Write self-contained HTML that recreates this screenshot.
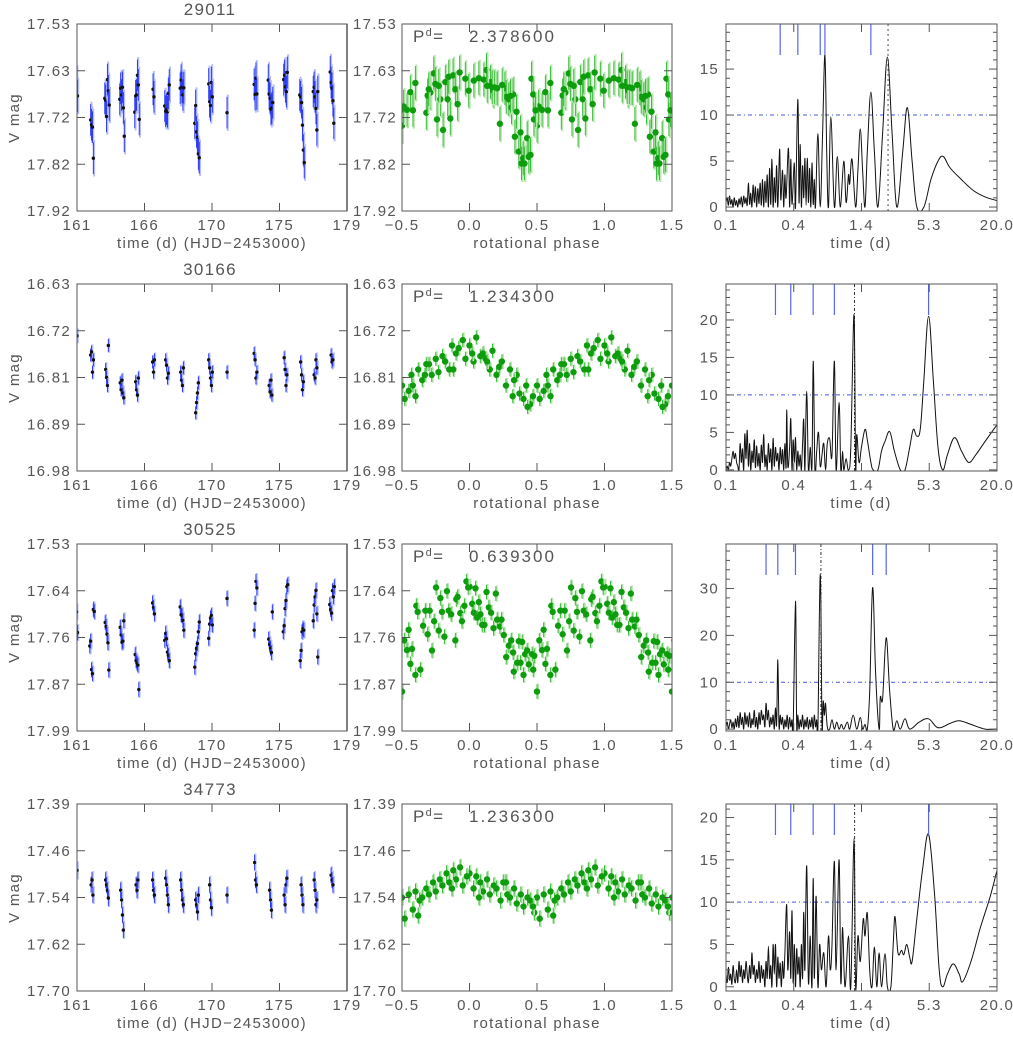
<!DOCTYPE html>
<html><head><meta charset="utf-8"><style>
html,body{margin:0;padding:0;background:#fff;}
svg{display:block;font-family:"Liberation Sans",sans-serif;}
text{letter-spacing:1.3px;}
</style></head><body>
<svg id="chart" width="1013" height="1039" viewBox="0 0 1013 1039" xmlns="http://www.w3.org/2000/svg"></svg>
<script>
// ---------- DATA ----------
const starIds = ["29011","30166","30525","34773"];
const periods = ["2.378600","1.234300","0.639300","1.236300"];
const bestLogP = [0.376, 0.091, -0.194, 0.092];
const magTicks0 = ["17.53","17.63","17.72","17.82","17.92"];
const magTicks1 = ["16.63","16.72","16.81","16.89","16.98"];
const magTicks2 = ["17.53","17.64","17.76","17.87","17.99"];
const magTicks3 = ["17.39","17.46","17.54","17.62","17.70"];
const magTop = [17.53, 16.63, 17.53, 17.39];
const magBot = [17.92, 16.98, 17.99, 17.70];
const timeTicks = ["161","166","170","175","179"];
const phaseTicks = ["-0.5","0.0","0.5","1.0","1.5"];
const periodTicks = ["0.1","0.4","1.4","5.3","20.0"];
const powTicks0 = [0,5,10,15];
const powTicks1 = [0,5,10,15,20];
const powTicks2 = [0,10,20,30];
const powTicks3 = [0,5,10,15,20];
const powMin = [-0.43, -0.15, -0.4, -0.5];
const powMax = [19.9, 24.8, 39.5, 21.6];
const magErr = [0.033, 0.012, 0.018, 0.013];
const phErr = [0.035, 0.013, 0.018, 0.013];
const nightTimes = [161.0,162.0,163.0,164.0,165.0,166.1,167.0,168.0,169.0,169.9,171.0,172.9,173.9,174.9,176.0,176.9,178.0];
const lc29011 = [[17.654,17.68],[17.73,17.74,17.745,17.81],[17.685,17.689,17.723,17.646,17.669,17.699],[17.687,17.664,17.678,17.662,17.705,17.764],[17.714,17.68,17.678,17.637,17.657,17.729],[17.666,17.682],[17.701,17.712,17.708,17.713,17.675,17.657],[17.664,17.647,17.662,17.678,17.663],[17.737,17.7,17.755,17.766,17.801,17.809],[17.655,17.692,17.7,17.652,17.682],[17.715],[17.656,17.677,17.643,17.676],[17.647,17.676,17.685,17.708,17.705,17.694],[17.646,17.637,17.661,17.671,17.631],[17.678,17.682,17.694,17.741,17.793,17.819],[17.671,17.662,17.682,17.706,17.751,17.671],[17.63,17.652,17.664,17.69,17.737]];
const lc30166 = [[16.727],[16.763,16.757,16.795,16.772],[16.79,16.805,16.82,16.745],[16.815,16.828,16.81,16.834,16.843],[16.813,16.828,16.838,16.806],[16.776,16.795,16.772],[16.772,16.782,16.806,16.797],[16.795,16.81,16.82,16.787],[16.871,16.852,16.834,16.815],[16.772,16.787,16.806,16.82,16.795],[16.795],[16.76,16.772,16.806,16.795],[16.82,16.832,16.81,16.838],[16.768,16.79,16.82,16.8],[16.776,16.8,16.828,16.813],[16.8,16.806,16.772,16.787],[16.763,16.776,16.772]];
const lc30525 = [[17.697,17.748],[17.781,17.769,17.839,17.849,17.691,17.696],[17.723,17.733,17.752,17.773,17.84],[17.735,17.754,17.772,17.769,17.719],[17.802,17.817,17.823,17.828,17.888],[17.675,17.686,17.702],[17.767,17.75,17.763,17.796,17.804,17.817],[17.685,17.704,17.706,17.718,17.742],[17.833,17.8,17.787,17.775,17.746,17.722],[17.762,17.727,17.712,17.706,17.729],[17.664],[17.742,17.676,17.622,17.638],[17.764,17.777,17.786,17.797,17.697],[17.746,17.731,17.689,17.669,17.635,17.63],[17.817,17.792,17.746,17.738,17.742],[17.719,17.68,17.66,17.644,17.702,17.808],[17.679,17.691,17.7,17.645,17.66,17.635]];
const lc34773 = [[17.50],[17.524,17.516,17.541],[17.516,17.524,17.533,17.546],[17.533,17.549,17.574,17.599],[17.524,17.533,17.516],[17.516,17.533,17.541],[17.513,17.524,17.541,17.557],[17.516,17.533,17.549,17.557],[17.549,17.557,17.569,17.541],[17.524,17.549,17.562],[17.541],[17.487,17.516,17.524],[17.533,17.549,17.566],[17.541,17.557,17.524,17.513],[17.524,17.541,17.557],[17.516,17.533,17.557,17.549],[17.508,17.516,17.524]];
const ph29011 = [0.5,0.512,0.537,0.562,0.581,0.599,0.68,0.69,0.71,0.735,0.747,0.759,0.784,0.804,0.821,0.838,0.858,0.878,0.895,0.912,0.927,0.969,0.994,0.772,0.698,0.846,0.032,0.069,0.106,0.126,0.156,0.175,0.185,0.205,0.225,0.262,0.272,0.291,0.311,0.323,0.336,0.348,0.365,0.378,0.385,0.398,0.407,0.427,0.439,0.452,0.459,0.472,0.477,0.489,0.131,0.168,0.242,0.304];
const pm29011 = [17.742,17.702,17.709,17.672,17.71,17.653,17.715,17.679,17.673,17.633,17.655,17.729,17.687,17.751,17.651,17.687,17.727,17.637,17.666,17.697,17.631,17.644,17.669,17.659,17.666,17.64,17.648,17.643,17.646,17.626,17.651,17.669,17.662,17.664,17.738,17.664,17.682,17.687,17.704,17.677,17.765,17.713,17.796,17.756,17.821,17.81,17.821,17.768,17.807,17.803,17.644,17.677,17.729,17.71,17.659,17.662,17.657,17.68];
const ph30166 = [0.0,0.03,0.05,0.08,0.1,0.12,0.15,0.17,0.2,0.22,0.24,0.27,0.3,0.32,0.35,0.37,0.4,0.42,0.45,0.47,0.5,0.52,0.55,0.57,0.6,0.62,0.65,0.67,0.7,0.72,0.75,0.77,0.8,0.82,0.85,0.87,0.9,0.92,0.95,0.97,0.02,0.13,0.33,0.43,0.58,0.68,0.88];
const pm30166 = [16.745,16.775,16.73,16.765,16.76,16.77,16.79,16.755,16.8,16.785,16.775,16.82,16.79,16.84,16.8,16.835,16.845,16.82,16.855,16.84,16.82,16.845,16.83,16.8,16.84,16.79,16.81,16.8,16.78,16.8,16.77,16.795,16.765,16.775,16.79,16.745,16.76,16.75,16.735,16.77,16.76,16.775,16.81,16.86,16.82,16.78,16.79];
const ph30525 = [0.0,0.02,0.032,0.044,0.057,0.069,0.081,0.094,0.111,0.126,0.143,0.16,0.178,0.195,0.205,0.225,0.237,0.254,0.272,0.291,0.309,0.323,0.328,0.353,0.365,0.378,0.39,0.4,0.412,0.427,0.439,0.464,0.472,0.48,0.5,0.517,0.537,0.549,0.562,0.574,0.599,0.606,0.616,0.636,0.656,0.673,0.69,0.705,0.722,0.738,0.752,0.772,0.784,0.796,0.814,0.833,0.846,0.864,0.895,0.902,0.912,0.932,0.944,0.962,0.977,0.99];
const pm30525 = [17.635,17.677,17.699,17.639,17.711,17.673,17.703,17.729,17.729,17.648,17.686,17.699,17.737,17.652,17.716,17.733,17.716,17.754,17.808,17.78,17.767,17.797,17.844,17.822,17.769,17.822,17.771,17.852,17.801,17.792,17.826,17.801,17.839,17.805,17.893,17.767,17.791,17.741,17.825,17.788,17.852,17.682,17.697,17.839,17.731,17.694,17.752,17.694,17.792,17.72,17.637,17.743,17.663,17.697,17.758,17.646,17.694,17.703,17.767,17.666,17.66,17.7,17.72,17.682,17.622,17.637];
const ph34773 = [0.0,0.03,0.05,0.08,0.1,0.13,0.15,0.18,0.2,0.23,0.25,0.28,0.3,0.33,0.35,0.38,0.4,0.43,0.45,0.48,0.5,0.52,0.55,0.58,0.6,0.63,0.65,0.68,0.7,0.73,0.75,0.78,0.8,0.83,0.85,0.88,0.9,0.93,0.95,0.98,0.07,0.27,0.47,0.62,0.87];
const pm34773 = [17.505,17.53,17.51,17.52,17.535,17.515,17.54,17.525,17.53,17.55,17.52,17.54,17.545,17.53,17.555,17.54,17.56,17.545,17.55,17.57,17.545,17.58,17.54,17.565,17.535,17.55,17.545,17.53,17.54,17.52,17.535,17.515,17.525,17.505,17.52,17.5,17.515,17.495,17.525,17.51,17.545,17.52,17.56,17.575,17.53];
const peakMarks0 = [-0.54,-0.39,-0.2,-0.16,0.23];
const peakMarks1 = [-0.58,-0.45,-0.26,-0.08,0.72];
const peakMarks2 = [-0.66,-0.56,-0.41,0.245,0.36];
const peakMarks3 = [-0.58,-0.45,-0.26,-0.08,0.72];
const pgLogP0 = [-1,-0.99,-0.98,-0.97,-0.96,-0.95,-0.94,-0.93,-0.92,-0.91,-0.9,-0.89,-0.88,-0.87,-0.86,-0.85,-0.84,-0.83,-0.82,-0.81,-0.8,-0.79,-0.78,-0.77,-0.76,-0.75,-0.74,-0.73,-0.72,-0.71,-0.7,-0.69,-0.68,-0.67,-0.66,-0.65,-0.64,-0.63,-0.62,-0.61,-0.6,-0.59,-0.58,-0.57,-0.56,-0.545,-0.535,-0.52,-0.51,-0.5,-0.49,-0.47,-0.46,-0.45,-0.44,-0.42,-0.41,-0.39,-0.38,-0.37,-0.36,-0.35,-0.34,-0.33,-0.32,-0.31,-0.3,-0.29,-0.28,-0.27,-0.26,-0.25,-0.24,-0.22,-0.2,-0.18,-0.16,-0.145,-0.13,-0.11,-0.08,-0.055,-0.03,0.0,0.02,0.04,0.05,0.07,0.1,0.12,0.14,0.16,0.18,0.2,0.23,0.26,0.29,0.33,0.37,0.41,0.45,0.5,0.54,0.58,0.62,0.68,0.74,0.8,0.845,0.9,0.99,1.1,1.2,1.3];
const pgPow0 = [0.5,1,0.2,1.2,0.3,0.8,0,1,0.2,0.7,0,0.9,0.3,1.1,0,1.2,0.4,1,0.2,2.6,0.3,1.5,0,2.4,0.5,2.2,0,2,0.4,2.6,0.2,3,0,2.8,0.5,3.5,0,4.2,0.3,5.2,0,3.2,0.5,4.5,0,6.3,0.8,4,0,3.5,1,6.4,0,5.2,0.3,4.8,0,11.7,0.5,6.8,0,4.5,1,5.3,0.2,5.3,0.5,4.2,0,4.8,0.3,3,0,8,0,8,16.5,6,0,9.8,0,5.5,0,5.0,0.5,3.5,2.5,5.2,0,4,8.5,4,0,6,12.5,6,0,8,16.3,8,0,6,10.8,5,0,0,3,5,5.5,4.3,3.1,1.8,1.1,0.7];
const pgLogP1 = [-1,-0.99,-0.98,-0.97,-0.96,-0.95,-0.94,-0.93,-0.92,-0.91,-0.9,-0.89,-0.88,-0.87,-0.86,-0.85,-0.84,-0.83,-0.82,-0.81,-0.8,-0.79,-0.78,-0.77,-0.76,-0.75,-0.74,-0.73,-0.72,-0.71,-0.7,-0.69,-0.68,-0.67,-0.66,-0.65,-0.64,-0.63,-0.62,-0.61,-0.6,-0.59,-0.58,-0.57,-0.56,-0.55,-0.54,-0.53,-0.52,-0.51,-0.5,-0.49,-0.485,-0.475,-0.46,-0.45,-0.44,-0.43,-0.42,-0.41,-0.4,-0.39,-0.38,-0.37,-0.36,-0.35,-0.34,-0.33,-0.315,-0.3,-0.285,-0.27,-0.259,-0.245,-0.23,-0.215,-0.2,-0.185,-0.17,-0.155,-0.14,-0.12,-0.1,-0.08,-0.065,-0.04,-0.025,-0.01,0.0,0.02,0.04,0.06,0.087,0.1,0.11,0.13,0.15,0.18,0.2,0.23,0.25,0.29,0.32,0.35,0.39,0.43,0.48,0.52,0.56,0.59,0.62,0.65,0.68,0.72,0.76,0.8,0.84,0.88,0.94,1.0,1.06,1.12,1.2,1.3];
const pgPow1 = [0,0.5,0,1,0.5,1.5,2.5,1.5,2.2,1,0.5,0,3.5,1,2.8,0,4.8,1.5,5.3,0.5,3.5,0,2.5,1,4,0.3,3.2,0.5,2.2,0,3.3,1,4.7,0.5,2,0,3.5,1,2.8,0,4.2,0.5,3,1.2,2.2,0,3,0.8,2.7,0,3.5,0.3,8,0.5,3,6.8,0,4,1,4.3,0,2.5,0.5,2,0,3.5,6.7,0,10.5,0,3,0.5,14.5,0,2.5,5,0.5,2,3.5,0,3.5,4.2,2,14.5,0,9,0,2.5,0,1.5,0,3,20.7,0,4.7,1,3,5.4,4,1,0,0,2.5,3.8,5.1,2.5,0,0,3,5.4,4.5,5.5,12,20.5,12,3,0,2,4.3,2.5,1,2,3.8,6];
const pgLogP2 = [-1,-0.99,-0.98,-0.97,-0.96,-0.95,-0.94,-0.93,-0.92,-0.91,-0.9,-0.89,-0.88,-0.87,-0.86,-0.85,-0.84,-0.83,-0.82,-0.81,-0.8,-0.79,-0.78,-0.77,-0.76,-0.75,-0.74,-0.73,-0.72,-0.71,-0.7,-0.69,-0.68,-0.67,-0.66,-0.65,-0.64,-0.63,-0.62,-0.61,-0.6,-0.59,-0.58,-0.57,-0.56,-0.55,-0.54,-0.53,-0.52,-0.51,-0.5,-0.49,-0.48,-0.47,-0.46,-0.45,-0.44,-0.43,-0.41,-0.4,-0.39,-0.38,-0.37,-0.36,-0.35,-0.34,-0.33,-0.32,-0.31,-0.3,-0.29,-0.28,-0.27,-0.26,-0.25,-0.24,-0.23,-0.22,-0.2,-0.185,-0.175,-0.165,-0.155,-0.14,-0.12,-0.1,-0.08,-0.06,-0.04,-0.02,0.0,0.03,0.05,0.08,0.11,0.14,0.16,0.18,0.2,0.22,0.245,0.27,0.3,0.31,0.33,0.36,0.39,0.42,0.45,0.48,0.52,0.56,0.64,0.72,0.8,0.9,0.98,1.08,1.2,1.3];
const pgPow2 = [0.5,1.5,0,1,2,0.3,1.5,0,2.2,0.5,2.8,0.3,3.5,1,2.5,0,3.5,1,2.8,0.5,3.5,0.3,2.2,1,4,0.5,2.5,0,3.5,1,4,2,3,0.5,5.5,2,4,0.5,2.5,1,3,0,4.5,1,14.8,0.5,3,1,2.5,0,2,0.5,3,0,2.5,0.5,2,0,27.3,0.5,3,0,2,0.5,3,0,2,0.5,2.5,0,2,0.5,2.5,0,3,0.5,2,0,33,1,6,3,5.5,0.5,0,2,0,1.5,0,1,0,1.5,0,3,0,2.5,0,1,0,8,30.2,12,0,6.8,6.5,19.5,8,0,1.8,0,2.2,0,1.5,2.2,0.3,1.2,1.8,1,0,0];
const pgLogP3 = [-1,-0.99,-0.98,-0.97,-0.96,-0.95,-0.94,-0.93,-0.92,-0.91,-0.9,-0.89,-0.88,-0.87,-0.86,-0.85,-0.84,-0.83,-0.82,-0.81,-0.8,-0.79,-0.78,-0.77,-0.76,-0.75,-0.74,-0.73,-0.72,-0.71,-0.7,-0.69,-0.68,-0.67,-0.66,-0.65,-0.64,-0.63,-0.62,-0.61,-0.6,-0.59,-0.58,-0.57,-0.56,-0.55,-0.54,-0.53,-0.52,-0.51,-0.5,-0.485,-0.475,-0.46,-0.45,-0.44,-0.43,-0.42,-0.41,-0.4,-0.39,-0.38,-0.37,-0.36,-0.35,-0.34,-0.33,-0.315,-0.3,-0.285,-0.27,-0.26,-0.25,-0.235,-0.22,-0.205,-0.19,-0.17,-0.15,-0.13,-0.115,-0.1,-0.08,-0.065,-0.04,-0.025,-0.01,0.01,0.04,0.06,0.087,0.1,0.12,0.14,0.165,0.18,0.2,0.22,0.24,0.26,0.28,0.3,0.32,0.35,0.37,0.4,0.42,0.435,0.46,0.49,0.51,0.535,0.56,0.58,0.62,0.67,0.72,0.77,0.81,0.84,0.88,0.93,0.98,1.01,1.08,1.16,1.24,1.3];
const pgPow3 = [1.5,0.5,2.3,0.8,1.5,0.3,2.5,1,0.5,2,0.5,3,1.2,2.5,0.5,2,1,3,1.5,0.5,2.5,1,4,1.5,2.5,0.5,2,1,3,0.5,2.5,1,2,0,3,1,4.8,1,2.5,0,5,1.5,5,0,3.5,1,2.8,0,3,1,4,9.7,2,6.5,1,9,0.5,5,0,4.5,1.5,3.5,0,5,1,8.8,2,14.3,0.5,6,0,12.8,1,10.7,0,5,2,4,0,6,2,5,14.8,2,15,0.5,7,0,6,0,17.5,0,6,3,8,6,8.7,2,0,4.7,0,4,0,3.9,0,0,5,8.3,4,4.3,3.8,5,3.5,3,8,14,18,11,2,0,1.5,2.7,1.5,0.6,3,7,10.5,13.7];

// ---------- DRAWING ----------
const svg = document.getElementById('chart');
const NS = 'http://www.w3.org/2000/svg';
function mk(tag, attrs, parent){ const e=document.createElementNS(NS,tag); for(const k in attrs) e.setAttribute(k,attrs[k]); (parent||svg).appendChild(e); return e; }
function txt(s, x, y, size, anchor, parent){ const t=mk('text',{x:x,y:y,'font-size':size,'text-anchor':anchor||'middle',fill:'#555'},parent); t.textContent=s; return t; }

const magTicksAll=[magTicks0,magTicks1,magTicks2,magTicks3];
const lcAll=[lc29011,lc30166,lc30525,lc34773];
const phAll=[ph29011,ph30166,ph30525,ph34773];
const pmAll=[pm29011,pm30166,pm30525,pm34773];
const powTicksAll=[powTicks0,powTicks1,powTicks2,powTicks3];
const marksAll=[peakMarks0,peakMarks1,peakMarks2,peakMarks3];
const pgXAll=[pgLogP0,pgLogP1,pgLogP2,pgLogP3];
const pgYAll=[pgPow0,pgPow1,pgPow2,pgPow3];

const PL=[77,347], PM=[402,672], PR=[726,997];
const defs = mk('defs',{});

function box(x0,x1,T,B,name){
  const r=mk('rect',{x:x0,y:T,width:x1-x0,height:B-T,fill:'none',stroke:'#555','stroke-width':1});
  
  
}
function clip(id,x0,x1,T,B){ const c=mk('clipPath',{id:id},defs); mk('rect',{x:x0,y:T,width:x1-x0,height:B-T},c); }
function smoothPath(px,py){
  let d='M'+px[0].toFixed(1)+','+py[0].toFixed(1);
  for(let i=0;i<px.length-1;i++){
    const x0=px[Math.max(i-1,0)], y0=py[Math.max(i-1,0)];
    const x1=px[i], y1=py[i], x2=px[i+1], y2=py[i+1];
    const x3=px[Math.min(i+2,px.length-1)], y3=py[Math.min(i+2,px.length-1)];
    const t=0.18;
    d+='C'+(x1+(x2-x0)*t).toFixed(1)+','+(y1+(y2-y0)*t).toFixed(1)+' '+(x2-(x3-x1)*t).toFixed(1)+','+(y2-(y3-y1)*t).toFixed(1)+' '+x2.toFixed(1)+','+y2.toFixed(1);
  }
  return d;
}

for(let r=0;r<4;r++){
  const T=24+260*r, B=211+260*r;
  const my = m => T + (m-magTop[r])/(magBot[r]-magTop[r])*(B-T);
  const lx = t => PL[0] + (t-161)/18*(PL[1]-PL[0]);
  const mx = p => PM[0] + (p+0.5)/2*(PM[1]-PM[0]);
  const rx = l => PR[0] + (l+1)/2.301*(PR[1]-PR[0]);
  const ry = p => B - (p-powMin[r])/(powMax[r]-powMin[r])*(B-T);

  const row = mk('g',{});
  
  

  const title = txt(starIds[r], 210, 15+260*r, 17, 'middle', row);
  
  

  // ===== left: light curve =====
  clip('cl'+r,PL[0],PL[1],T,B);
  const gL = mk('g',{'clip-path':'url(#cl'+r+')'},row);
  
  
  const lc = lcAll[r];
  for(let n=0;n<nightTimes.length;n++){
    const arr=lc[n];
    for(let i=0;i<arr.length;i++){
      const t = nightTimes[n] + (i-(arr.length-1)/2)*0.06;
      const x = lx(t), y = my(arr[i]);
      const e1=magErr[r]*1.15, e0=magErr[r];
      mk('line',{x1:x+0.8,x2:x+0.8,y1:my(arr[i]-e1),y2:my(arr[i]+e1),stroke:'#b4bdff','stroke-width':2},gL);
      mk('line',{x1:x,x2:x,y1:my(arr[i]-e0),y2:my(arr[i]+e0),stroke:'#2a3af0','stroke-width':1},gL);
      const d=mk('circle',{cx:x,cy:y,r:1.7,fill:'#111'},gL);
      
      
    }
  }
  box(PL[0],PL[1],T,B,'light-curve-frame');
  mk('line',{x1:PL[1],x2:PL[1],y1:T,y2:B,stroke:'#aaa','stroke-width':2},row);
  for(let k=0;k<5;k++){
    const y=T+k*(B-T)/4;
    mk('line',{x1:PL[0],x2:PL[0]+8,y1:y,y2:y,stroke:'#555'},row);
    mk('line',{x1:PL[1]-8,x2:PL[1],y1:y,y2:y,stroke:'#555'},row);
    const tl=txt(magTicksAll[r][k],71,y+5,15,'end',row);
    
    
    const x=PL[0]+k*(PL[1]-PL[0])/4;
    mk('line',{x1:x,x2:x,y1:B-8,y2:B,stroke:'#555'},row);
    mk('line',{x1:x,x2:x,y1:T,y2:T+8,stroke:'#555'},row);
    const xl=txt(timeTicks[k],x,B+19,15,'middle',row);
    
    
  }
  const xt=txt('time (d) (HJD\u22122453000)',212,B+37,15,'middle',row);
  
  
  const vt=txt('V mag',0,0,15,'middle',row);
  vt.setAttribute('transform','translate(19,'+(118+260*r)+') rotate(-90)');
  
  

  // ===== middle: phase plot =====
  clip('cm'+r,PM[0],PM[1],T,B);
  const gM = mk('g',{'clip-path':'url(#cm'+r+')'},row);
  
  
  const ph=phAll[r], pm=pmAll[r];
  for(let i=0;i<ph.length;i++){
    for(const sh of [-1,0,1]){
      const p=ph[i]+sh; if(p<-0.52||p>1.52) continue;
      const x=mx(p), e1=phErr[r]*1.1, e0=phErr[r];
      mk('line',{x1:x+1,x2:x+1,y1:my(pm[i]-e1),y2:my(pm[i]+e1),stroke:'#b8e6b0','stroke-width':2},gM);
      mk('line',{x1:x,x2:x,y1:my(pm[i]-e0),y2:my(pm[i]+e0),stroke:'#3cbc3c','stroke-width':1},gM);
      const c=mk('circle',{cx:x,cy:my(pm[i]),r:3.2,fill:'#0c9c0c'},gM);
      
      
    }
  }
  box(PM[0],PM[1],T,B,'phase-plot-frame');
  for(let k=0;k<5;k++){
    const y=T+k*(B-T)/4;
    mk('line',{x1:PM[0],x2:PM[0]+8,y1:y,y2:y,stroke:'#555'},row);
    mk('line',{x1:PM[1]-8,x2:PM[1],y1:y,y2:y,stroke:'#555'},row);
    const tl=txt(magTicksAll[r][k],397,y+5,15,'end',row);
    
    
    const x=PM[0]+k*(PM[1]-PM[0])/4;
    mk('line',{x1:x,x2:x,y1:B-8,y2:B,stroke:'#555'},row);
    mk('line',{x1:x,x2:x,y1:T,y2:T+8,stroke:'#555'},row);
    const xl=txt(phaseTicks[k].replace('-','\u2212'),x,B+19,15,'middle',row);
    
    
  }
  const pt=txt('rotational phase',537,B+37,15,'middle',row);
  
  
  const pl=mk('text',{x:413,y:T+18,'font-size':17,fill:'#555'},row);
  
  
  pl.innerHTML='P<tspan font-size="11" dy="-6">d</tspan><tspan dy="6">=</tspan><tspan x="469" letter-spacing="2">'+periods[r]+'</tspan>';

  // ===== right: periodogram =====
  clip('cr'+r,PR[0],PR[1],T,B);
  const gR = mk('g',{'clip-path':'url(#cr'+r+')'},row);
  const th=mk('line',{x1:PR[0],x2:PR[1],y1:ry(10),y2:ry(10),stroke:'#4455ee','stroke-width':1,'stroke-dasharray':'4,3,1,3'},gR);
  
  
  const bx=rx(bestLogP[r]);
  const bl=mk('line',{x1:bx,x2:bx,y1:T,y2:B,stroke:r===0?'#888':'#333','stroke-width':r===0?1.5:1,'stroke-dasharray':r===0?'2,3':'3,2,1,2'},gR);
  
  
  const xs=pgXAll[r].map(rx), ys=pgYAll[r].map(ry);
  const pg=mk('path',{d:smoothPath(xs,ys),fill:'none',stroke:'#111','stroke-width':1},gR);
  
  
  for(const lm of marksAll[r]){
    const x=rx(lm);
    const m=mk('line',{x1:x,x2:x,y1:T,y2:T+31,stroke:'#5566ee','stroke-width':1.2},gR);
    
    
  }
  box(PR[0],PR[1],T,B,'periodogram-frame');
  const pt2=powTicksAll[r], step=pt2[1]-pt2[0];
  for(let v=0; v<=powMax[r]; v+=step/5){
    const y=ry(v); const major=Math.abs(v/step-Math.round(v/step))<1e-6;
    const L=major?8:4;
    mk('line',{x1:PR[0],x2:PR[0]+L,y1:y,y2:y,stroke:'#555'},row);
    mk('line',{x1:PR[1]-L,x2:PR[1],y1:y,y2:y,stroke:'#555'},row);
  }
  for(const v of pt2){
    const tl=txt(String(v),719,ry(v)+5,15,'end',row);
    
    
  }
  for(let k=0;k<5;k++){
    const x=PR[0]+k*(PR[1]-PR[0])/4;
    mk('line',{x1:x,x2:x,y1:B-8,y2:B,stroke:'#555'},row);
    mk('line',{x1:x,x2:x,y1:T,y2:T+8,stroke:'#555'},row);
    const xl=txt(periodTicks[k],x,B+19,15,'middle',row);
    
    
  }
  const rt=txt('time (d)',861,B+37,15,'middle',row);
  
  
}
</script>
</body></html>
